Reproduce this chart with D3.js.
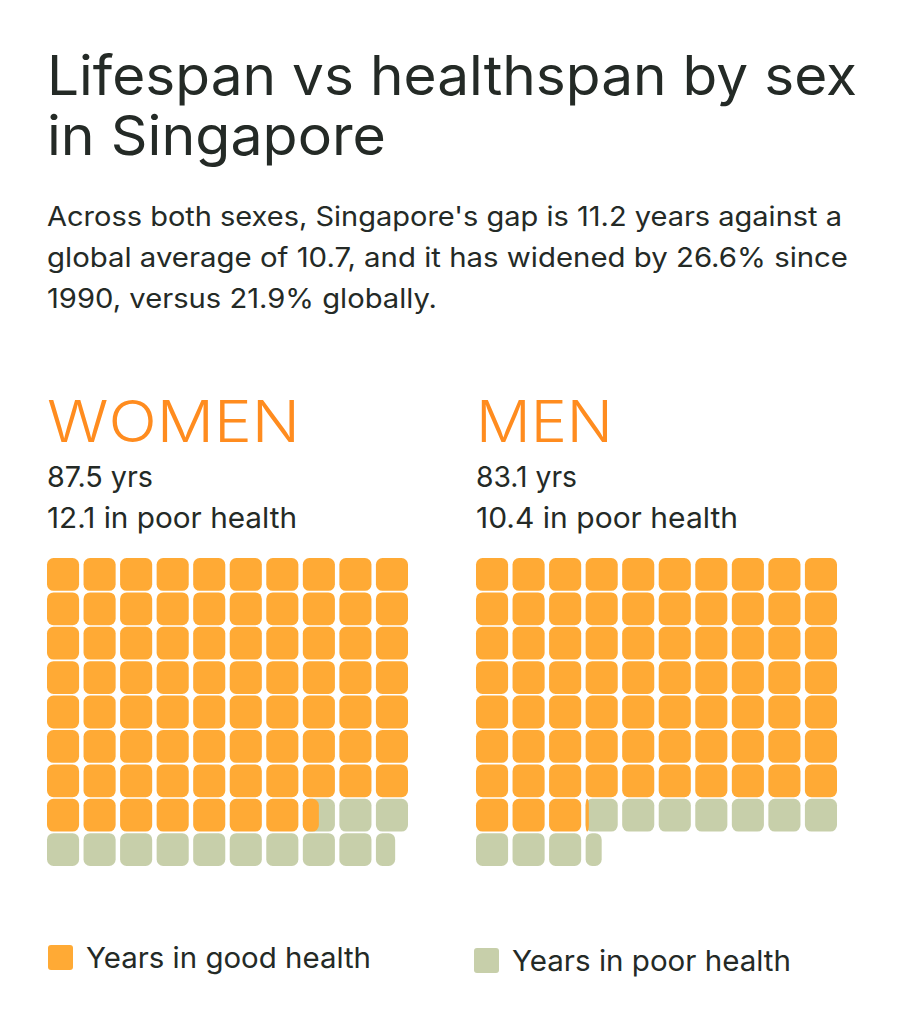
<!DOCTYPE html>
<html>
<head>
<meta charset="utf-8">
<script src="https://cdn.jsdelivr.net/npm/d3@7"></script>
<style>
  body { margin: 0; background: #fff; }
  text { font-family: "Inter", "Noto Sans", sans-serif; }
</style>
</head>
<body>
<div id="chart"></div>
<script>
// values
let sexes = ["WOMEN", "MEN"];
let lifespan = [87.5, 83.1];
let poorHealth = [12.1, 10.4];
let goodCells = [77.5, 73.1];   // orange cells as drawn in the waffle
let legendLabels = ["Years in good health", "Years in poor health"];

let nCols = 10, nRows = 9;
let goodColor = "#ffaa35", poorColor = "#c7cfaa";
let ink = "#242a26";

let width = 922, height = 1024;

let svg = d3.select("#chart")
    .append("svg")
    .attr("width", width)
    .attr("height", height);

svg.append("rect").attr("width", width).attr("height", height).attr("fill", "#fff");

// put a text on the page and squeeze / stretch it to the width seen in the picture
function addText(str, x, y, size, w, opts) {
    opts = opts || {};
    let t = svg.append("text")
        .attr("x", x)
        .attr("y", y)
        .attr("font-size", size)
        .attr("font-weight", opts.weight || 400)
        .attr("fill", opts.fill || ink)
        .text(str);
    if (w) {
        t.attr("textLength", w).attr("lengthAdjust", "spacingAndGlyphs");
    }
    return t;
}

// title and subtitle
addText("Lifespan vs healthspan by sex", 47, 95, 55, 810);
addText("in Singapore", 47, 155, 55, 339);
addText("Across both sexes, Singapore's gap is 11.2 years against a", 47, 226, 27, 795);
addText("global average of 10.7, and it has widened by 26.6% since", 47, 267, 27, 801);
addText("1990, versus 21.9% globally.", 47, 308, 27, 390);

// one waffle per sex
let panelX = [47, 476];
let headW = [253, 137];
let yrsW = [106, 101];
let poorW = [250, 262];

let x = d3.scaleBand()
    .domain(d3.range(nCols))
    .range([0, 361])
    .paddingInner(0.122);

let y = d3.scaleBand()
    .domain(d3.range(nRows))
    .range([558, 866])
    .paddingInner(0.047);

sexes.forEach(function (sex, s) {
    addText(sex, panelX[s], 442, 57, headW[s], {fill: "#ff8c1f", weight: 300});
    addText(lifespan[s] + " yrs", panelX[s], 487, 29, yrsW[s]);
    addText(poorHealth[s] + " in poor health", panelX[s], 528, 29, poorW[s]);

    let good = goodCells[s];
    let total = good + poorHealth[s];
    let cells = [];
    for (let i = 0; i < Math.ceil(total - 1e-9); i++) {
        let goodFrac = Math.max(0, Math.min(1, good - i));
        let totFrac = Math.max(0, Math.min(1, total - i));
        cells.push({i: i, goodFrac: goodFrac, totFrac: totFrac});
    }

    let g = svg.append("g").attr("transform", "translate(" + panelX[s] + ",0)");

    // poor-health cells sit underneath
    g.selectAll("rect.poor")
        .data(cells.filter(d => d.totFrac > d.goodFrac))
        .join("rect")
        .attr("class", "poor")
        .attr("x", d => x(d.i % nCols))
        .attr("y", d => y(Math.floor(d.i / nCols)))
        .attr("width", d => x.bandwidth() * d.totFrac)
        .attr("height", y.bandwidth())
        .attr("rx", 6.5)
        .attr("fill", poorColor);

    // good-health cells on top
    g.selectAll("rect.good")
        .data(cells.filter(d => d.goodFrac > 0))
        .join("rect")
        .attr("class", "good")
        .attr("x", d => x(d.i % nCols))
        .attr("y", d => y(Math.floor(d.i / nCols)))
        .attr("width", d => x.bandwidth() * d.goodFrac)
        .attr("height", y.bandwidth())
        .attr("rx", 6.5)
        .attr("fill", goodColor);
});

// legend
let legX = [48, 474], legY = [945, 948], legW = [285, 279];
legendLabels.forEach(function (lab, i) {
    svg.append("rect")
        .attr("x", legX[i])
        .attr("y", legY[i])
        .attr("width", 25)
        .attr("height", 25)
        .attr("rx", 3)
        .attr("fill", i == 0 ? goodColor : poorColor);
    addText(lab, legX[i] + 38, legY[i] + 23, 29, legW[i]);
});
</script>
</body>
</html>
